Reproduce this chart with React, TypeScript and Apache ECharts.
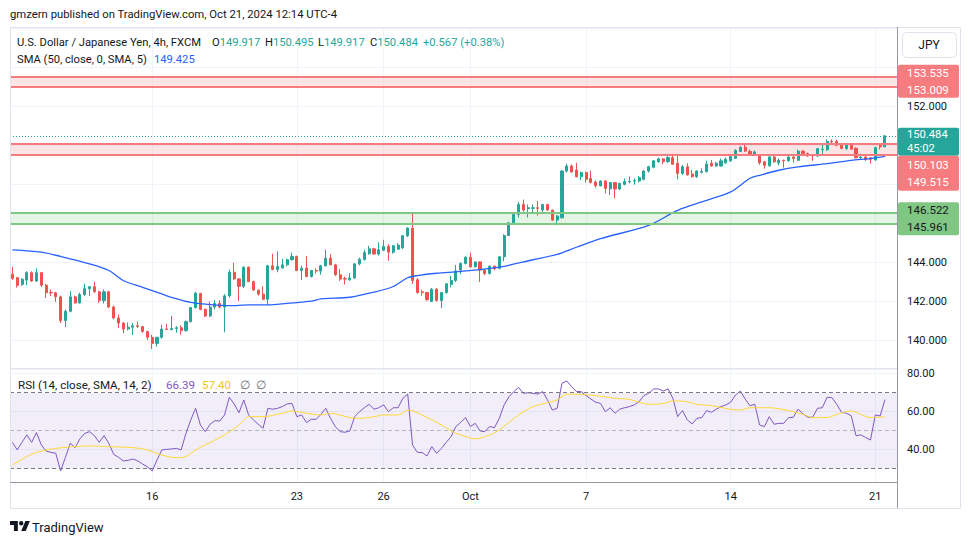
import React, { useEffect, useRef } from 'react';
import * as echarts from 'echarts';

// ---------- DATA ----------
const opens = [
  143.40, 143.22, 142.88, 143.10, 143.48, 143.05, 143.48, 142.84, 142.47, 142.45,
  142.24, 141.03, 141.50, 142.24, 141.93, 142.36, 142.66, 142.76, 142.50, 142.05,
  142.50, 141.72, 141.16, 140.90, 140.60, 140.69, 140.76, 140.72, 140.47, 140.17,
  139.86, 140.17, 140.60, 140.57, 140.62, 140.66, 140.52, 140.97, 141.69, 142.41,
  141.60, 141.26, 141.72, 141.90, 141.72, 142.29, 143.50, 143.16, 142.78, 143.76,
  143.02, 142.59, 142.38, 142.12, 143.83, 143.64, 143.72, 143.88, 144.14, 144.31,
  143.59, 143.71, 143.28, 143.59, 143.56, 143.83, 144.22, 143.88, 143.37, 143.18,
  143.12, 143.21, 143.93, 144.15, 144.45, 144.70, 144.43, 144.62, 144.82, 144.53,
  144.68, 144.75, 145.37, 145.76, 143.11, 142.50, 142.46, 142.00, 142.63, 142.05,
  142.46, 142.88, 143.08, 143.61, 143.95, 144.27, 143.78, 144.03, 143.61, 143.44,
  143.81, 143.70, 144.29, 145.38, 146.03, 146.46, 146.97, 146.75, 146.77, 146.80,
  146.68, 146.97, 146.68, 146.17, 146.29, 148.68, 148.94, 148.73, 148.39, 148.60,
  148.30, 148.12, 147.92, 148.17, 147.77, 148.09, 147.76, 148.00, 148.12, 148.17,
  148.17, 148.26, 148.68, 148.87, 149.16, 149.30, 149.16, 149.37, 149.08, 148.56,
  148.90, 148.53, 148.39, 148.62, 148.65, 149.08, 148.94, 148.94, 149.10, 149.20,
  149.33, 149.68, 149.90, 149.68, 149.52, 149.46, 149.15, 148.95, 149.40, 149.10,
  149.23, 149.20, 149.40, 149.23, 149.70, 149.57, 149.50, 149.45, 149.77, 149.77,
  150.20, 150.20, 150.00, 149.83, 150.00, 149.85, 149.36, 149.40, 149.36, 149.25,
  150.00, 149.917,
];
const closes = [
  143.19, 142.83, 143.14, 143.48, 143.05, 143.48, 142.84, 142.45, 142.45, 142.24,
  141.03, 141.50, 142.24, 141.93, 142.36, 142.66, 142.76, 142.50, 142.05, 142.50,
  141.72, 141.16, 140.90, 140.59, 140.69, 140.76, 140.72, 140.47, 140.17, 139.86,
  140.17, 140.59, 140.57, 140.62, 140.66, 140.52, 140.97, 141.69, 142.43, 141.60,
  141.26, 141.72, 141.90, 141.72, 142.29, 143.50, 143.16, 142.78, 143.76, 143.02,
  142.59, 142.38, 142.12, 143.83, 143.64, 143.79, 143.88, 144.14, 144.31, 143.59,
  143.71, 143.28, 143.59, 143.56, 143.83, 144.22, 143.88, 143.37, 143.15, 143.15,
  143.21, 143.93, 144.17, 144.51, 144.70, 144.43, 144.65, 144.82, 144.53, 144.85,
  144.89, 145.37, 145.76, 143.08, 142.46, 142.46, 142.09, 142.63, 142.05, 142.46,
  142.91, 143.08, 143.57, 143.95, 144.27, 143.78, 144.03, 143.61, 143.44, 143.81,
  143.68, 144.29, 145.38, 146.03, 146.46, 146.97, 146.68, 146.80, 146.80, 146.77,
  146.97, 146.68, 146.17, 146.38, 148.68, 148.94, 148.63, 148.39, 148.60, 148.26,
  148.10, 147.93, 148.17, 147.79, 148.09, 147.76, 148.05, 148.14, 148.15, 148.20,
  148.34, 148.68, 148.90, 149.20, 149.30, 149.16, 149.37, 149.03, 148.56, 148.90,
  148.48, 148.39, 148.68, 148.66, 149.04, 148.94, 149.08, 149.20, 149.28, 149.42,
  149.73, 149.90, 149.70, 149.52, 149.66, 149.10, 148.97, 149.40, 149.15, 149.23,
  149.20, 149.40, 149.32, 149.70, 149.57, 149.45, 149.45, 149.83, 149.80, 150.20,
  150.17, 150.00, 149.83, 150.03, 149.80, 149.36, 149.40, 149.26, 149.28, 149.88,
  149.917, 150.484,
];
const lows = [
  143.10, 142.71, 142.80, 142.84, 143.00, 143.00, 142.74, 142.19, 142.28, 141.98,
  140.90, 140.69, 141.45, 141.90, 141.90, 142.28, 142.28, 142.45, 141.93, 141.90,
  141.67, 141.10, 140.64, 140.38, 140.52, 140.29, 140.65, 140.40, 140.03, 139.57,
  139.69, 140.10, 140.55, 140.52, 140.40, 140.31, 140.45, 140.93, 141.65, 141.55,
  141.21, 141.20, 141.59, 141.66, 140.43, 142.20, 143.10, 142.03, 142.69, 143.00,
  142.55, 142.30, 142.07, 141.81, 143.60, 143.50, 143.70, 143.80, 144.10, 143.55,
  143.11, 143.25, 143.23, 143.42, 143.37, 143.80, 143.85, 143.30, 143.06, 142.87,
  143.06, 143.15, 143.85, 144.10, 144.40, 144.40, 144.35, 144.60, 144.09, 144.45,
  144.66, 144.68, 145.30, 142.90, 142.40, 142.30, 142.05, 141.97, 142.00, 141.66,
  142.40, 142.73, 143.00, 143.40, 143.90, 143.73, 143.75, 143.00, 143.35, 143.38,
  143.60, 143.65, 144.07, 145.35, 145.95, 146.30, 146.60, 146.30, 146.55, 146.40,
  146.60, 146.65, 146.12, 145.90, 146.25, 148.60, 148.60, 148.35, 148.22, 148.09,
  148.05, 147.83, 147.90, 147.54, 147.45, 147.28, 147.70, 147.95, 148.05, 147.98,
  148.10, 148.20, 148.60, 148.82, 149.10, 149.03, 149.10, 149.00, 148.26, 148.48,
  148.44, 148.35, 148.33, 148.55, 148.60, 148.90, 148.90, 148.90, 149.05, 149.15,
  149.30, 149.65, 149.66, 149.48, 149.46, 149.00, 148.80, 148.90, 149.10, 148.97,
  148.85, 149.15, 149.10, 149.20, 149.50, 149.40, 149.20, 149.40, 149.50, 149.70,
  150.10, 149.95, 149.80, 149.74, 149.78, 149.32, 149.30, 149.20, 149.06, 149.20,
  149.78, 149.917,
];
const highs = [
  143.79, 143.25, 143.20, 143.55, 143.55, 143.69, 143.52, 142.90, 142.62, 142.50,
  142.30, 141.60, 142.53, 142.30, 142.45, 142.91, 142.80, 143.02, 142.55, 142.62,
  142.55, 141.80, 141.33, 140.95, 140.93, 140.90, 140.98, 140.75, 140.50, 140.30,
  140.20, 140.81, 140.86, 141.26, 140.74, 140.79, 141.03, 141.72, 142.50, 142.45,
  141.65, 142.00, 142.07, 142.07, 142.38, 143.64, 143.98, 143.20, 143.80, 143.80,
  143.07, 142.60, 142.78, 143.88, 144.45, 144.57, 144.19, 144.20, 144.50, 144.35,
  143.83, 144.34, 143.62, 143.71, 143.88, 144.65, 144.43, 143.93, 143.66, 143.28,
  143.45, 143.95, 144.25, 144.65, 144.85, 144.75, 145.03, 145.16, 144.94, 144.90,
  144.99, 145.40, 145.80, 146.50, 143.20, 142.60, 142.50, 142.70, 142.70, 142.50,
  142.95, 143.32, 143.88, 144.00, 144.32, 144.50, 144.05, 144.05, 143.65, 143.85,
  143.85, 144.32, 145.45, 146.08, 146.55, 147.10, 147.22, 146.97, 146.97, 147.15,
  147.00, 147.00, 146.70, 146.42, 148.72, 149.06, 149.02, 149.10, 148.65, 148.65,
  148.70, 148.20, 148.20, 148.20, 148.12, 148.12, 148.08, 148.30, 148.40, 148.30,
  148.43, 148.72, 148.95, 149.24, 149.37, 149.35, 149.56, 149.56, 149.56, 148.99,
  149.08, 148.73, 148.72, 148.82, 149.21, 149.25, 149.15, 149.33, 149.37, 149.45,
  149.80, 149.95, 150.02, 149.78, 149.74, 149.50, 149.20, 149.45, 149.45, 149.32,
  149.26, 149.45, 149.43, 149.78, 149.74, 149.63, 149.55, 149.87, 150.09, 150.30,
  150.30, 150.28, 150.05, 150.08, 150.05, 149.90, 149.57, 149.50, 149.40, 149.92,
  150.09, 150.495,
];

// SMA(50) at these bar indices
const smaIdx = [0, 6, 10, 16, 20, 23, 27, 31, 33, 37, 41, 45, 49, 53, 57, 62, 64, 70, 75, 79,
  82, 84, 88, 93, 101, 108, 113, 117, 122, 132, 138, 144, 149, 153, 155, 159, 163, 169, 174, 178, 181];
const smaVal = [144.65, 144.53, 144.31, 143.93, 143.59, 143.08, 142.73, 142.39, 142.22, 141.96,
  141.85, 141.79, 141.83, 141.83, 141.91, 142.02, 142.14, 142.22, 142.48, 142.77,
  143.22, 143.33, 143.45, 143.54, 143.76, 144.14, 144.41, 144.78, 145.22, 145.90,
  146.67, 147.18, 147.61, 148.31, 148.46, 148.72, 148.89, 149.06, 149.23, 149.32, 149.425];

const rsiVals = [
  43.9, 39.9, 44.0, 47.8, 43.9, 49.0, 42.5, 39.3, 38.6, 38.1,
  28.8, 36.0, 43.4, 41.1, 45.7, 48.6, 49.5, 47.4, 43.9, 47.4,
  43.4, 37.6, 36.0, 34.1, 34.4, 35.1, 34.1, 32.5, 31.0, 28.8,
  34.6, 39.9, 40.2, 40.4, 40.7, 39.9, 48.6, 55.7, 61.8, 53.0,
  49.5, 53.4, 55.3, 55.1, 58.3, 67.6, 64.1, 59.5, 66.2, 58.3,
  55.7, 53.4, 51.3, 61.8, 61.3, 61.8, 62.7, 64.1, 64.4, 57.4,
  58.3, 54.3, 56.0, 56.0, 58.6, 61.8, 56.5, 52.1, 49.5, 49.2,
  49.9, 57.4, 60.0, 62.1, 63.9, 61.3, 62.1, 63.6, 60.0, 62.1,
  62.1, 67.1, 69.3, 42.5, 38.6, 38.5, 36.7, 41.6, 38.1, 40.7,
  43.9, 46.9, 52.2, 54.4, 56.9, 52.2, 53.9, 49.9, 49.5, 52.2,
  51.6, 56.5, 63.6, 67.9, 70.6, 72.8, 69.7, 70.0, 69.7, 69.3,
  70.6, 66.2, 60.9, 61.8, 75.0, 76.2, 73.2, 70.6, 70.6, 68.5,
  66.7, 65.0, 64.4, 60.0, 62.1, 59.2, 61.4, 62.1, 62.7, 63.6,
  65.3, 68.5, 69.7, 72.0, 72.0, 70.9, 72.0, 67.1, 57.4, 60.6,
  55.7, 53.6, 56.5, 56.9, 60.6, 59.7, 61.3, 62.7, 63.6, 65.0,
  68.8, 70.9, 66.7, 63.2, 63.9, 53.0, 52.2, 57.4, 53.4, 53.9,
  53.9, 56.9, 57.1, 61.4, 58.8, 57.1, 57.1, 61.8, 62.1, 67.6,
  67.4, 63.9, 59.7, 59.2, 57.9, 47.4, 47.8, 46.4, 45.1, 58.3,
  57.8, 66.39,
];
const rsiSmaIdx = [0, 3, 5, 9, 16, 20, 25, 28, 31, 34, 36, 38, 40, 44, 47, 49, 52, 56, 58, 61,
  64, 66, 70, 72, 75, 77, 80, 82, 85, 89, 92, 93, 96, 99, 101, 105, 108, 113, 115, 120,
  125, 128, 132, 135, 137, 140, 142, 145, 149, 151, 153, 157, 161, 164, 166, 169, 171, 174, 176, 178, 181];
const rsiSmaVal = [32.0, 36.4, 38.6, 40.7, 42.0, 41.6, 41.1, 39.9, 37.2, 35.8,
  36.4, 39.9, 42.5, 47.8, 53.0, 57.4, 57.4, 59.2, 60.4, 59.2,
  58.3, 59.2, 56.9, 56.5, 57.4, 58.3, 58.3, 60.9, 58.3, 53.0,
  48.6, 47.8, 45.7, 47.8, 50.4, 58.3, 62.7, 66.2, 69.3, 68.8,
  67.1, 66.5, 63.9, 64.3, 65.7, 65.3, 63.9, 63.2, 61.3, 60.9,
  62.1, 62.1, 60.6, 58.6, 56.9, 56.9, 58.6, 60.4, 58.6, 56.9, 57.4];

const tickIdx = [29, 59, 77, 95, 119, 149, 179];
const tickLabels = ['16', '23', '26', 'Oct', '7', '14', '21'];

const zoneTopRed = [153.009, 153.535];
const zoneMidRed = [149.515, 150.103];
const zoneGreen = [145.961, 146.522];
const countdown = '45:02';

// ---------- STYLE ----------
const FONT = 'Roboto, "Noto Sans", sans-serif';
const UP = '#26a69a';
const DOWN = '#ef5350';
const RED_LINE = '#f77c80';
const RED_FILL = 'rgba(247,124,128,0.2)';
const GREEN_LINE = '#81c784';
const GREEN_FILL = 'rgba(129,199,132,0.2)';
const GRID = '#f0f3fa';
const TEXT = '#131722';
const LEG = 11.2;

echarts.graphic.registerShape(
  'tvlogo',
  echarts.graphic.extendPath('M14 22H7V11H0V4h14v18zM28 22h-8l7.5-18h8L28 22zM24 8a4 4 0 1 1-8 0a4 4 0 1 1 8 0z', {})
);

export default function App() {
  const ref = useRef<HTMLDivElement>(null);

  useEffect(() => {
    const el = ref.current as HTMLDivElement;
    const chart = echarts.init(el, null, { renderer: 'svg' });
    const last = closes.length - 1;
    const lastPrice = closes[last];
    const categories = [...closes.map((_, i) => 'b' + i), 'pad1', 'pad2'];
    const candles = opens.map((o, i) => [o, closes[i], lows[i], highs[i]]);
    const isTick = (i: number) => tickIdx.indexOf(i) >= 0;

    const vSplit = {
      show: true,
      interval: (i: number) => isTick(i),
      alignWithLabel: true,
      lineStyle: { color: GRID, width: 1 },
    };

    const zoneEdge = (v: number, color: string) => ({ yAxis: v, lineStyle: { color, width: 2, type: 'solid' } });
    const priceLabel = (v: number) => {
      const r = Math.round(v);
      return Math.abs(v - r) < 1e-6 && r % 2 === 0 && r >= 140 && r <= 152 ? r.toFixed(3) : '';
    };

    const option: any = {
      animation: false,
      backgroundColor: '#ffffff',
      textStyle: { fontFamily: FONT },
      grid: [
        { left: 10, right: 73, top: 28, height: 340, outerBoundsMode: 'none' },
        { left: 10, right: 73, top: 369, height: 113, outerBoundsMode: 'none' },
      ],
      xAxis: [
        {
          type: 'category', gridIndex: 0, data: categories, boundaryGap: true,
          axisLine: { show: false }, axisTick: { show: false }, axisLabel: { show: false },
          splitLine: vSplit,
        },
        {
          type: 'category', gridIndex: 1, data: categories, boundaryGap: true,
          axisLine: { show: false }, axisTick: { show: false },
          axisLabel: {
            interval: (i: number) => isTick(i),
            formatter: (_v: string, i: number) => (isTick(i) ? tickLabels[tickIdx.indexOf(i)] : ''),
            color: TEXT, fontSize: 11, margin: 9, fontFamily: FONT,
          },
          splitLine: vSplit,
        },
      ],
      yAxis: [
        {
          type: 'value', gridIndex: 0, position: 'right', min: 138.6, max: 156,
          minInterval: 2, maxInterval: 2,
          axisLine: { show: false }, axisTick: { show: false },
          axisLabel: { color: TEXT, fontSize: 11, margin: 10, fontFamily: FONT, formatter: priceLabel },
          splitLine: { show: true, lineStyle: { color: GRID } },
        },
        {
          type: 'value', gridIndex: 1, position: 'right', min: 23, max: 82.5,
          minInterval: 20, maxInterval: 20,
          axisLine: { show: false }, axisTick: { show: false },
          axisLabel: {
            color: TEXT, fontSize: 11, margin: 10, fontFamily: FONT,
            formatter: (v: number) => {
              const r = Math.round(v);
              return Math.abs(v - r) < 1e-6 && [40, 60, 80].indexOf(r) >= 0 ? r.toFixed(2) : '';
            },
          },
          splitLine: { show: true, lineStyle: { color: GRID } },
        },
      ],
      series: [
        {
          type: 'candlestick', xAxisIndex: 0, yAxisIndex: 0, data: candles, barWidth: 2.6,
          itemStyle: { color: UP, color0: DOWN, borderColor: UP, borderColor0: DOWN, borderWidth: 1 },
          markArea: {
            silent: true,
            data: [
              [{ yAxis: zoneTopRed[0], itemStyle: { color: RED_FILL } }, { yAxis: zoneTopRed[1] }],
              [{ yAxis: zoneMidRed[0], itemStyle: { color: RED_FILL } }, { yAxis: zoneMidRed[1] }],
              [{ yAxis: zoneGreen[0], itemStyle: { color: GREEN_FILL } }, { yAxis: zoneGreen[1] }],
            ],
          },
          markLine: {
            silent: true, symbol: 'none', label: { show: false },
            data: [
              zoneEdge(zoneTopRed[0], RED_LINE), zoneEdge(zoneTopRed[1], RED_LINE),
              zoneEdge(zoneMidRed[0], RED_LINE), zoneEdge(zoneMidRed[1], RED_LINE),
              zoneEdge(zoneGreen[0], GREEN_LINE), zoneEdge(zoneGreen[1], GREEN_LINE),
              { yAxis: lastPrice, lineStyle: { color: UP, width: 1, type: [1, 2] } },
            ],
          },
        },
        {
          type: 'line', xAxisIndex: 0, yAxisIndex: 0, name: 'SMA',
          data: smaIdx.map((x, k) => [x, smaVal[k]]),
          symbol: 'none', smooth: 0.3, lineStyle: { color: '#2962ff', width: 1.3 }, z: 3,
        },
        {
          type: 'line', xAxisIndex: 1, yAxisIndex: 1, name: 'RSI', data: rsiVals,
          symbol: 'none', lineStyle: { color: '#7e57c2', width: 1 }, z: 3,
          markArea: {
            silent: true,
            data: [[{ yAxis: 30, itemStyle: { color: 'rgba(126,87,194,0.1)' } }, { yAxis: 70 }]],
          },
          markLine: {
            silent: true, symbol: 'none', label: { show: false },
            data: [
              { yAxis: 70, lineStyle: { color: '#787b86', width: 1, type: [4, 3] } },
              { yAxis: 50, lineStyle: { color: 'rgba(120,123,134,0.5)', width: 1, type: [4, 3] } },
              { yAxis: 30, lineStyle: { color: '#787b86', width: 1, type: [4, 3] } },
            ],
          },
        },
        {
          type: 'line', xAxisIndex: 1, yAxisIndex: 1, name: 'RSI-MA',
          data: rsiSmaIdx.map((x, k) => [x, rsiSmaVal[k]]),
          symbol: 'none', smooth: 0.3, lineStyle: { color: '#fdd835', width: 1 }, z: 3,
        },
      ],
    };
    chart.setOption(option);

    // ---- graphic overlays ----
    const yPix = (v: number) => chart.convertToPixel({ yAxisIndex: 0 }, v) as number;
    const txt = (x: number, y: number, text: string, fill: string, size = LEG, extra: any = {}) => ({
      type: 'text', x, y, z: 100,
      style: { text, fill, fontSize: size, fontFamily: FONT, verticalAlign: 'middle', ...extra },
    });
    const rich = (x: number, y: number, a: string, b: string, colB: string) => ({
      type: 'text', x, y, z: 100,
      style: {
        text: `{a|${a}}{b|${b}}`, fontSize: LEG, fontFamily: FONT, verticalAlign: 'middle',
        rich: {
          a: { fill: TEXT, fontSize: LEG, fontFamily: FONT },
          b: { fill: colB, fontSize: LEG, fontFamily: FONT },
        },
      },
    });

    const els: any[] = [];
    // frame & separators
    els.push({ type: 'rect', z: 90, shape: { x: 10.5, y: 27.5, width: 950, height: 481 }, style: { fill: 'none', stroke: '#e0e3eb', lineWidth: 1 } });
    els.push({ type: 'line', z: 90, shape: { x1: 10, y1: 368.5, x2: 897, y2: 368.5 }, style: { stroke: '#e0e3eb', lineWidth: 1 } });
    els.push({ type: 'line', z: 90, shape: { x1: 10, y1: 482.5, x2: 897, y2: 482.5 }, style: { stroke: '#9598a1', lineWidth: 1 } });
    els.push({ type: 'line', z: 90, shape: { x1: 897.5, y1: 27, x2: 897.5, y2: 508 }, style: { stroke: '#9598a1', lineWidth: 1 } });

    // header
    els.push(txt(10, 14, 'gmzern published on TradingView.com, Oct 21, 2024 12:14 UTC-4', TEXT, 11.3));
    els.push(txt(17, 42, 'U.S. Dollar / Japanese Yen, 4h, FXCM', TEXT));
    const chg = closes[last] - closes[last - 1];
    els.push(rich(212, 42, 'O', opens[last].toFixed(3), UP));
    els.push(rich(265, 42, 'H', highs[last].toFixed(3), UP));
    els.push(rich(318, 42, 'L', lows[last].toFixed(3), UP));
    els.push(rich(370, 42, 'C', closes[last].toFixed(3), UP));
    els.push(txt(423, 42, `+${chg.toFixed(3)} (+${((chg / closes[last - 1]) * 100).toFixed(2)}%)`, UP));
    els.push(txt(17, 59, 'SMA (50, close, 0, SMA, 5)', TEXT));
    els.push(txt(154, 59, smaVal[smaVal.length - 1].toFixed(3), '#2962ff'));

    // RSI legend
    els.push(txt(18, 385, 'RSI (14, close, SMA, 14, 2)', TEXT, 11.6));
    els.push(txt(166, 385, rsiVals[rsiVals.length - 1].toFixed(2), '#7e57c2', 11.6));
    els.push(txt(202, 385, rsiSmaVal[rsiSmaVal.length - 1].toFixed(2), '#f2c80f', 11.6));
    els.push(txt(240, 385, '∅', '#6a6d78', 11.6));
    els.push(txt(256, 385, '∅', '#6a6d78', 11.6));

    // JPY button
    els.push({ type: 'rect', z: 100, shape: { x: 902.5, y: 32.5, width: 54, height: 25, r: 4 }, style: { fill: '#ffffff', stroke: '#e0e3eb', lineWidth: 1 } });
    els.push(txt(929, 45, 'JPY', TEXT, 12, { align: 'center' }));

    // price tags (stacked so they do not overlap)
    const desc = (a: number[]) => [...a].sort((p, q) => q - p);
    const groups = [
      { values: desc(zoneTopRed), labels: desc(zoneTopRed).map((v) => v.toFixed(3)), bg: RED_LINE, fg: '#ffffff', lh: 16.5, fs: 11.5, anchor: false },
      { values: [lastPrice], labels: [lastPrice.toFixed(3), countdown], bg: UP, fg: '#ffffff', lh: 14, fs: 11.2, anchor: true },
      { values: desc(zoneMidRed), labels: desc(zoneMidRed).map((v) => v.toFixed(3)), bg: RED_LINE, fg: '#ffffff', lh: 17.5, fs: 11.5, anchor: false },
      { values: desc(zoneGreen), labels: desc(zoneGreen).map((v) => v.toFixed(3)), bg: GREEN_LINE, fg: TEXT, lh: 16.5, fs: 11.5, anchor: false },
    ];
    const blocks: [number, number][] = [];
    let prevBottom = -Infinity;
    groups.forEach((g) => {
      const ys = g.values.map(yPix);
      const h = g.labels.length * g.lh;
      let top = g.anchor ? ys[0] - 8 : ys.reduce((s, v) => s + v, 0) / ys.length - h / 2;
      if (top < prevBottom) top = prevBottom;
      prevBottom = top + h;
      blocks.push([top, top + h]);
      els.push({ type: 'rect', z: 110, shape: { x: 898, y: top, width: 61, height: h, r: 2 }, style: { fill: g.bg } });
      g.labels.forEach((lab, k) => {
        const cy = top + g.lh * k + g.lh / 2;
        els.push({ type: 'text', z: 111, x: 907, y: cy, style: { text: lab, fill: g.fg, fontSize: g.fs, lineHeight: g.lh - 1, fontFamily: FONT, verticalAlign: 'middle' } });
      });
    });

    // footer logo
    els.push({ type: 'tvlogo', z: 100, x: 10, y: 518.8, scaleX: 0.56, scaleY: 0.56, style: { fill: TEXT } });
    els.push(txt(32, 527, 'TradingView', TEXT, 13));

    // price-scale labels that sit under a tag are not drawn (as on TradingView)
    const underTag = (v: number) => {
      const y = yPix(v);
      return blocks.some(([t, b]) => y > t - 7 && y < b + 7);
    };
    chart.setOption({
      yAxis: [
        { axisLabel: { formatter: (v: number) => (underTag(v) ? '' : priceLabel(v)) } },
        {},
      ],
      graphic: els,
    });

    return () => chart.dispose();
  }, []);

  return (
    <div
      ref={ref}
      style={{ position: 'absolute', left: 0, top: 0, width: 970, height: 545, background: '#ffffff' }}
    />
  );
}
